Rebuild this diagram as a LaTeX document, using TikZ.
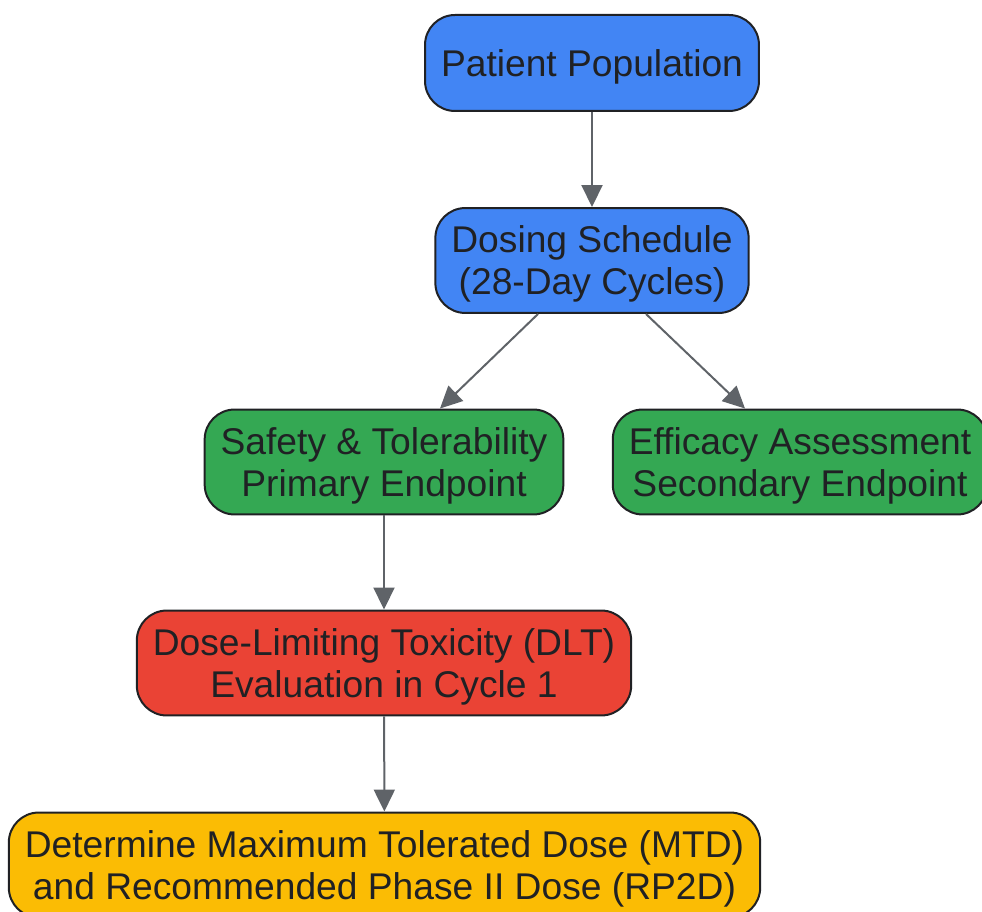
\documentclass[tikz,border=0pt]{standalone}
\usepackage{fontspec}
\setmainfont{Liberation Sans}
\usetikzlibrary{arrows.meta}
\definecolor{gblue}{HTML}{4285F4}
\definecolor{ggreen}{HTML}{34A853}
\definecolor{gred}{HTML}{EA4335}
\definecolor{gyellow}{HTML}{FBBC04}
\definecolor{gtext}{HTML}{202124}
\definecolor{garrow}{HTML}{5F6368}
\begin{document}
\begin{tikzpicture}
    [x=1pt, y=-1pt,
    stage/.style={draw=gtext, line width=2pt, rounded corners=30pt, text=gtext,
        align=center, inner xsep=16pt, inner ysep=18pt, text depth=0pt, minimum height=96pt,
        font=\fontsize{37.2}{42}\selectfont},
    flow/.style={line width=2pt, draw=garrow, -{Triangle[length=22pt, width=21pt]}}]
    \useasboundingbox (0,0) rectangle (982,912);
    % \draw[help lines, step=100] (0,0) grid (982,912);
    \node[stage, fill=gblue] (POP) at (592, 63) {Patient Population};
    \node[stage, fill=gblue] (DS) at (592, 260.5) {Dosing Schedule\\(28-Day Cycles)};
    %
    \node[stage, fill=ggreen] (SAF) at (384, 462) {Safety \& Tolerability\\Primary Endpoint};
    \node[stage, fill=ggreen] (EFF) at (800, 462) {Efficacy Assessment\\Secondary Endpoint};
    %
    \node[stage, fill=gred] (DLT) at (384, 663) {Dose-Limiting Toxicity (DLT)\\Evaluation in Cycle 1};
    \node[stage, fill=gyellow] (MTD) at (384.5, 865) {Determine Maximum Tolerated Dose (MTD)\\and Recommended Phase II Dose (RP2D)};
    %
    \draw[flow] (POP) -- (DS);
    \draw[flow] ([xshift=-54pt]DS.south) -- ([xshift=56pt]SAF.north);
    \draw[flow] ([xshift=54pt]DS.south) -- ([xshift=-55pt]EFF.north);
    \draw[flow] (SAF) -- (DLT);
    \draw[flow] (DLT) -- (MTD);
\end{tikzpicture}
\end{document}
